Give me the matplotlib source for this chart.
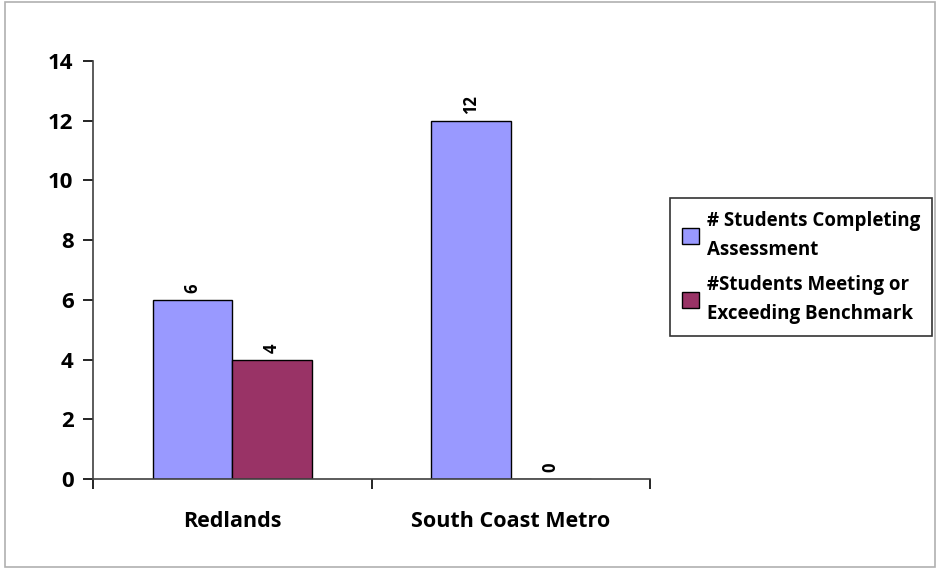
import numpy as np
import matplotlib.pyplot as plt
from matplotlib.patches import Rectangle

# data
categories = ['Redlands', 'South Coast Metro']
completing = [6, 12]
meeting = [4, 0]
series_names = ['# Students Completing\nAssessment', '#Students Meeting or\nExceeding Benchmark']

plt.rcParams['font.family'] = ['Open Sans', 'DejaVu Sans']

fig = plt.figure(figsize=(9.38, 5.69), dpi=100)
ax = fig.add_axes([0.0991, 0.1582, 0.594, 0.7346])

# outer gray border of the chart area
fig.patches.append(Rectangle((5 / 938, 2 / 569), 930 / 938, 565 / 569,
                             transform=fig.transFigure, fill=False,
                             edgecolor='#b0b0b0', linewidth=1.2))

x = np.arange(len(categories)) + 0.5
w = 0.286
b1 = ax.bar(x - w / 2, completing, w, color='#9999FF', edgecolor='black',
            linewidth=1, label=series_names[0])
b2 = ax.bar(x + w / 2, meeting, w, color='#993366', edgecolor='black',
            linewidth=1, label=series_names[1])

for bars, vals in ((b1, completing), (b2, meeting)):
    for r, v in zip(bars, vals):
        ax.annotate(str(v), xy=(r.get_x() + r.get_width() / 2, v),
                    xytext=(0, 5), textcoords='offset points',
                    ha='center', va='bottom', rotation=90,
                    fontsize=12, fontweight='bold')

ax.set_xlim(0, 2)
ax.set_ylim(0, 14)
ax.set_yticks(range(0, 15, 2))
ax.tick_params(axis='y', direction='out', length=7, width=1.2, labelsize=16, pad=7)
for t in ax.get_yticklabels():
    t.set_fontweight('bold')

ax.set_xticks([0, 1, 2])
ax.set_xticklabels([])
ax.tick_params(axis='x', which='major', direction='out', length=7, width=1.2)
ax.set_xticks(x, minor=True)
ax.set_xticklabels(categories, minor=True, fontsize=15.5, fontweight='bold')
ax.tick_params(axis='x', which='minor', length=0, pad=23)

for s in ['top', 'right']:
    ax.spines[s].set_visible(False)
ax.spines['left'].set_linewidth(1.2)
ax.spines['bottom'].set_linewidth(1.2)
ax.spines['bottom'].set_color('#404040')
ax.spines['left'].set_color('#404040')

leg = fig.legend(loc='center left', bbox_to_anchor=(670 / 938, 1 - 267 / 569),
                 borderaxespad=0, frameon=True, fancybox=False, edgecolor='black',
                 prop={'size': 13.5, 'weight': 'bold'}, handlelength=0.9,
                 handleheight=0.9, handletextpad=0.4, labelspacing=0.8,
                 borderpad=0.65)
leg.get_frame().set_linewidth(1.2)
for t in leg.get_texts():
    t.set_linespacing(1.6)

fig.savefig('out.png', dpi=100)
